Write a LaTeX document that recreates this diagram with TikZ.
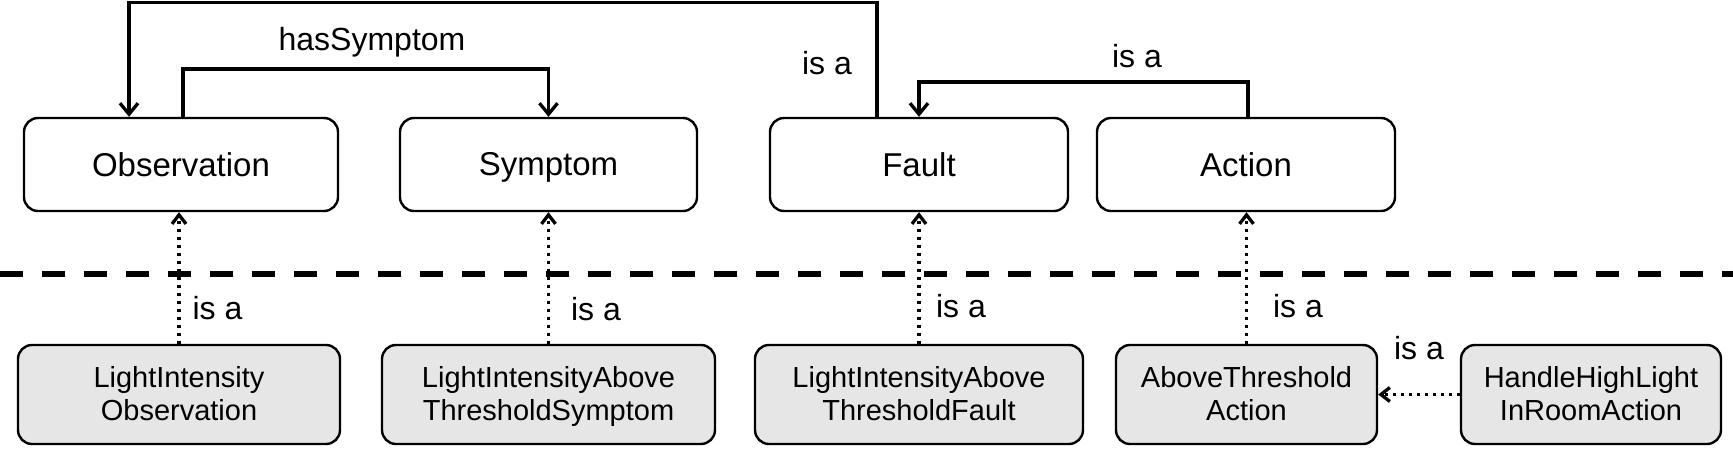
\documentclass[tikz,border=0pt]{standalone}
\usepackage{fontspec}
\setmainfont{Liberation Sans}
\usetikzlibrary{arrows.meta}
\definecolor{boxgray}{HTML}{E6E6E6}
\newcommand\tstrut{\rule[-6pt]{0pt}{35pt}}
\newcommand\bstrut{\rule[-7pt]{0pt}{33pt}}
\begin{document}
\begin{tikzpicture}[x=1pt,y=-1pt,
  topbox/.style={draw, line width=2.4pt, rounded corners=14pt, minimum height=93pt, inner sep=0pt, font=\fontsize{33}{38}\selectfont},
  botbox/.style={draw, fill=boxgray, line width=2.4pt, rounded corners=14pt, minimum height=99pt, inner sep=0pt, align=center, font=\fontsize{29}{33}\selectfont},
  conn/.style={line width=3.3pt, -{Straight Barb[length=11pt,width=18pt]}},
  isa/.style={dash pattern=on 3.3pt off 4.7pt, line width=3.3pt, -{Straight Barb[length=9pt,width=14pt]}},
  lbl/.style={anchor=base, inner sep=0pt, font=\fontsize{32}{38}\selectfont}]
\useasboundingbox (0,0) rectangle (1733,448);

% top row
\node[topbox, minimum width=314pt] (obs) at (181,164.5) {\tstrut Observation};
\node[topbox, minimum width=297pt] (sym) at (548.5,164.5) {\tstrut Symptom};
\node[topbox, minimum width=298pt] (fault) at (919,164.5) {\tstrut Fault};
\node[topbox, minimum width=298pt] (act) at (1246,164.5) {\tstrut Action};

% bottom row
\node[botbox, minimum width=322pt] (lio) at (179,394.5) {\bstrut LightIntensity\\\bstrut Observation};
\node[botbox, minimum width=333pt] (lis) at (548.5,394.5) {\bstrut LightIntensityAbove\\\bstrut ThresholdSymptom};
\node[botbox, minimum width=328pt] (lif) at (919,394.5) {\bstrut LightIntensityAbove\\\bstrut ThresholdFault};
\node[botbox, minimum width=261pt] (ata) at (1246.5,394.5) {\bstrut AboveThreshold\\\bstrut Action};
\node[botbox, minimum width=260pt] (hhl) at (1591,394.5) {\bstrut HandleHighLight\\\bstrut InRoomAction};

% separator
\draw[line width=5.7pt, dash pattern=on 23.3pt off 18.7pt] (0,274) -- (1733,274);

% top connectors
\coordinate (c1) at (877,2.5);
\coordinate (c2) at (129,2.5);
\draw[conn] ([xshift=-42pt]fault.north) -- (c1) -- (c2) -- ([xshift=-52pt]obs.north);
\coordinate (c3) at (183,69);
\draw[conn] ([xshift=2pt]obs.north) -- (c3) -| (sym.north);
\coordinate (c4) at (1248,82);
\draw[conn] ([xshift=2pt]act.north) -- (c4) -| (fault.north);

\node[lbl] (l1) at (372,50) {hasSymptom};
\node[lbl] (l2) at (827,74) {is a};
\node[lbl] (l3) at (1137,67) {is a};

% is-a dotted connectors
\draw[isa] (lio.north) -- (lio.north |- obs.south);
\draw[isa] (lis.north) -- (lis.north |- sym.south);
\draw[isa] (lif.north) -- (lif.north |- fault.south);
\draw[isa] (ata.north) -- (ata.north |- act.south);
\draw[isa] (hhl.west) -- (ata.east);

\node[lbl] (l4) at (217.5,319) {is a};
\node[lbl] (l5) at (596,320) {is a};
\node[lbl] (l6) at (961,317) {is a};
\node[lbl] (l7) at (1298,317) {is a};
\node[lbl] (l8) at (1419,359) {is a};
\end{tikzpicture}
\end{document}
